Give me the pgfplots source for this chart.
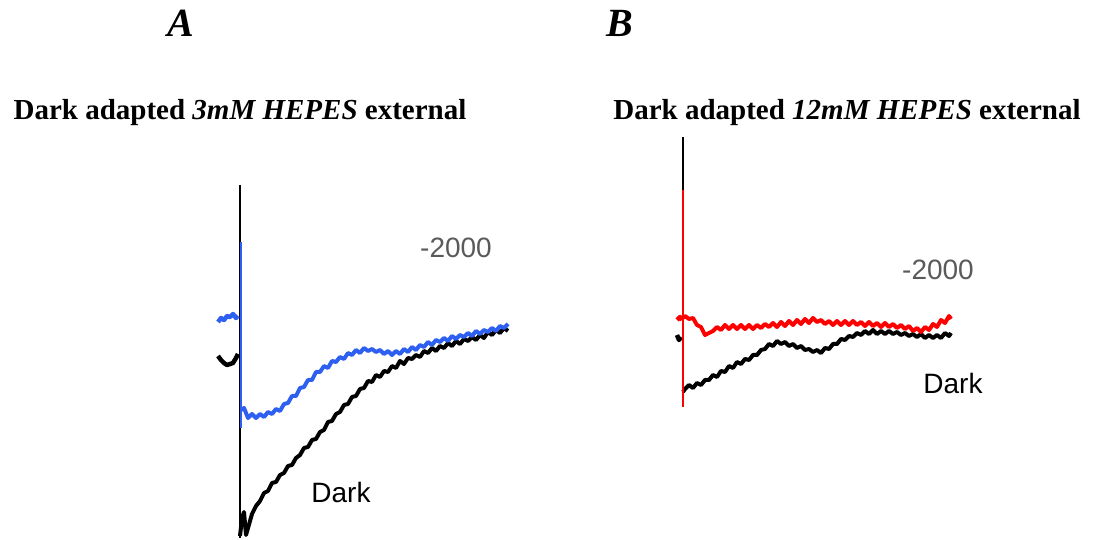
\documentclass[border=0pt]{standalone}
\usepackage{fontspec}
\setmainfont{Liberation Serif}
\newfontfamily\arial{Liberation Sans}
\usepackage{pgfplots}
\pgfplotsset{compat=1.18}
\definecolor{trblue}{RGB}{45,95,240}
\definecolor{labgray}{RGB}{90,90,90}

\begin{document}
\begin{tikzpicture}
% whole canvas in pixel units of the reference, y downwards
\begin{axis}[width=1097bp, height=540bp, scale only axis,
             xmin=0, xmax=1097, ymin=0, ymax=540, y dir=reverse,
             axis lines=none, clip=false]

% ---------- panel A ----------
% black, dark trace
\addplot[black, line width=4.5bp, line join=round] coordinates {
  (218,356) (221,360) (224,363) (227,365) (230,364) (233,363) (236,358) (238,354)
};
\addplot[black, line width=2bp] coordinates {(240,185) (240,538)};
\addplot[black, line width=4bp, line join=round] coordinates {
  (240,536) (242,518) (244,512) (246,535) (248,528)
  (252,514) (256,506) (260,501) (264,493) (268,491) (272,483) (276,482)
  (280,475) (284,473) (288,466) (292,465) (296,458) (300,455) (304,448)
  (308,447) (312,440) (316,439) (320,432) (324,430) (328,422) (332,421)
  (336,414) (340,412) (344,405) (348,404) (352,397) (356,396) (360,389)
  (364,388) (368,381) (372,382) (376,375) (380,377) (384,371) (388,372)
  (392,366) (396,368) (400,361) (404,364) (408,358) (412,359) (416,355)
  (420,357) (424,351) (428,353) (432,348) (436,351) (440,346) (444,348)
  (448,343) (452,346) (456,341) (460,344) (464,339) (468,341) (472,337)
  (476,340) (480,335) (484,338) (488,332) (492,335) (496,330) (500,333)
  (504,328) (508,331)
};
% blue trace
\addplot[trblue, line width=4.5bp, line join=round] coordinates {
  (218,322) (221,318) (224,320) (227,316) (230,317) (233,314) (236,318) (238,316)
};
\addplot[trblue, line width=2.5bp] coordinates {(241,242) (241,428)};
\addplot[trblue, line width=4bp, line join=round] coordinates {
  (241,410) (244,408) (248,418) (252,414) (256,418) (260,414) (264,417)
  (268,412) (272,414) (276,409) (280,411) (284,404) (288,403) (292,396)
  (296,396) (300,388) (304,387) (308,380) (312,380) (316,372) (320,372)
  (324,366) (328,368) (332,361) (336,362) (340,357) (344,359) (348,353)
  (352,355) (356,350) (360,353) (364,348) (368,351) (372,349) (376,352)
  (380,350) (384,354) (388,351) (392,355) (396,351) (400,354) (404,349)
  (408,352) (412,347) (416,350) (420,345) (424,347) (428,342) (432,345)
  (436,340) (440,342) (444,338) (448,341) (452,336) (456,339) (460,335)
  (464,337) (468,333) (472,336) (476,331) (480,334) (484,330) (488,332)
  (492,328) (496,331) (500,326) (504,328) (508,324)
};

% ---------- panel B ----------
\addplot[black, line width=4.5bp, line join=round] coordinates {
  (677,335) (679,340) (681,337)
};
\addplot[black, line width=2.5bp] coordinates {(683,137) (683,407)};
\addplot[black, line width=4bp, line join=round] coordinates {
  (683,392) (685,389) (689,385) (693,388) (697,383) (701,385) (705,380)
  (709,380) (713,375) (717,377) (721,371) (725,372) (729,366) (733,368)
  (737,362) (741,364) (745,359) (749,360) (753,355) (757,355) (761,350)
  (765,349) (769,344) (773,346) (777,341) (781,344) (785,342) (789,346)
  (793,344) (797,348) (801,346) (805,350) (809,349) (813,352) (817,350)
  (821,353) (825,348) (829,349) (833,344) (837,344) (841,339) (845,340)
  (849,336) (853,337) (857,333) (861,335) (865,331) (869,334) (873,330)
  (877,334) (881,331) (885,334) (889,331) (893,334) (897,332) (901,335)
  (905,333) (909,336) (913,334) (917,337) (921,334) (925,338) (929,335)
  (933,338) (937,335) (941,338) (945,333) (949,336) (951,333)
};
\addplot[red, line width=4.5bp, line join=round] coordinates {
  (677,320) (680,317) (682,320)
};
\addplot[red, line width=2.5bp] coordinates {(683,190) (683,407)};
\addplot[red, line width=4bp, line join=round] coordinates {
  (683,318) (685,316) (689,319) (693,318) (697,325) (701,327) (705,335)
  (709,333) (713,331) (717,327) (721,330) (725,325) (729,329) (733,325)
  (737,329) (741,325) (745,329) (749,325) (753,329) (757,325) (761,328)
  (765,324) (769,327) (773,323) (777,327) (781,322) (785,326) (789,321)
  (793,325) (797,320) (801,324) (805,319) (809,323) (813,318) (817,322)
  (821,320) (825,324) (829,321) (833,325) (837,321) (841,325) (845,321)
  (849,325) (853,321) (857,325) (861,322) (865,326) (869,322) (873,326)
  (877,323) (881,327) (885,323) (889,327) (893,324) (897,328) (901,325)
  (905,329) (909,326) (913,331) (917,328) (921,332) (925,327) (929,330)
  (933,324) (937,327) (941,320) (945,323) (949,316) (951,319)
};

% ---------- texts ----------
\node[font=\fontsize{40bp}{44bp}\selectfont\bfseries\itshape] at (axis cs:181,23) {A};
\node[font=\fontsize{40bp}{44bp}\selectfont\bfseries\itshape] at (axis cs:620,23) {B};
\node[font=\fontsize{29bp}{33bp}\selectfont\bfseries] at (axis cs:240,113)
  {Dark adapted \textit{3mM HEPES} external};
\node[font=\fontsize{29bp}{33bp}\selectfont\bfseries] at (axis cs:847,113)
  {Dark adapted \textit{12mM HEPES} external};
\node[font=\fontsize{28bp}{32bp}\selectfont\arial, text=labgray] at (axis cs:456,248) {-2000};
\node[font=\fontsize{28bp}{32bp}\selectfont\arial, text=labgray] at (axis cs:938,270) {-2000};
\node[font=\fontsize{28bp}{32bp}\selectfont\arial] at (axis cs:341,492) {Dark};
\node[font=\fontsize{28bp}{32bp}\selectfont\arial] at (axis cs:953,383) {Dark};
\end{axis}
\pgfresetboundingbox
\useasboundingbox (current axis.south west) rectangle (current axis.north east);
\end{tikzpicture}
\end{document}
